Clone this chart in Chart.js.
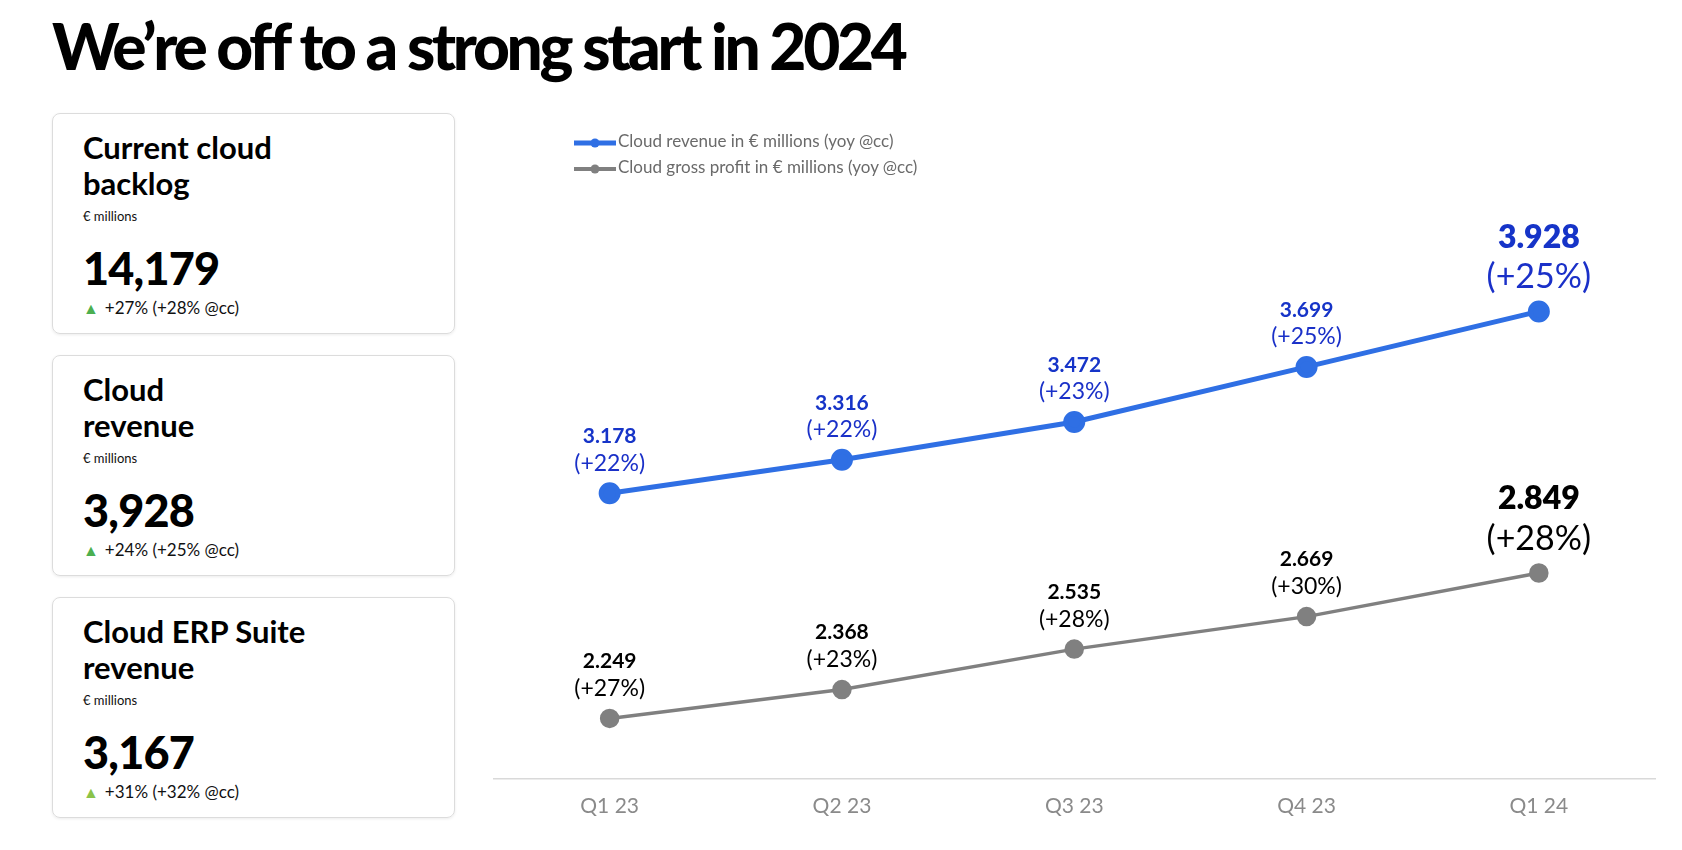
<!DOCTYPE html>
<html>
<head>
<meta charset="utf-8">
<script src="https://cdn.jsdelivr.net/npm/chart.js@4/dist/chart.umd.min.js"></script>
<style>
  body { margin: 0; width: 1682px; height: 850px; background: #fff; position: relative; overflow: hidden; font-family: Lato, sans-serif; }
  h1 { position: absolute; left: 52px; top: 6px; margin: 0; font: 900 64px/80px Lato, sans-serif; letter-spacing: -3.3px; color: #000; }
  .card { position: absolute; left: 52px; width: 403px; height: 221px; box-sizing: border-box; border: 1px solid #dcdcdc; border-radius: 8px; box-shadow: 0 1px 3px rgba(0,0,0,0.08); padding: 15px 0 0 30px; }
  .card .hd { font: 700 31px/36px Lato, sans-serif; color: #000; }
  .card .unit { font: 400 13px/20px Lato, sans-serif; color: #111; margin-top: 5px; }
  .card .num { font: 900 45px/50px Lato, sans-serif; color: #000; margin-top: 17px; letter-spacing: -0.8px; }
  .card .chg { font: 400 17px/20px Lato, sans-serif; color: #111; margin-top: 5px; }
  .card .chg span { font-size: 16px; margin-right: 6px; }
  #legend { position: absolute; left: 574px; top: 128px; font: 400 17px/26px Lato, sans-serif; color: #6a6a6a; }
  #legend canvas { vertical-align: middle; margin-right: 2px; }
  #wrap { position: absolute; left: 480px; top: 170px; width: 1190px; height: 680px; }
</style>
</head>
<body>
<h1>We’re off to a strong start in 2024</h1>

<div class="card" style="top:113px">
  <div class="hd">Current cloud<br>backlog</div>
  <div class="unit">€ millions</div>
  <div class="num">14,179</div>
  <div class="chg"><span style="color:#4caf50">▲</span>+27% (+28% @cc)</div>
</div>
<div class="card" style="top:355px">
  <div class="hd">Cloud<br>revenue</div>
  <div class="unit">€ millions</div>
  <div class="num">3,928</div>
  <div class="chg"><span style="color:#4caf50">▲</span>+24% (+25% @cc)</div>
</div>
<div class="card" style="top:597px">
  <div class="hd">Cloud ERP Suite<br>revenue</div>
  <div class="unit">€ millions</div>
  <div class="num">3,167</div>
  <div class="chg"><span style="color:#8bc34a">▲</span>+31% (+32% @cc)</div>
</div>

<div id="legend"></div>
<div id="wrap"><canvas id="myChart"></canvas></div>

<script>
var quarters = ['Q1 23', 'Q2 23', 'Q3 23', 'Q4 23', 'Q1 24'];
var cloudRevenue = [3178, 3316, 3472, 3699, 3928];
var cloudRevenueYoy = ['+22%', '+22%', '+23%', '+25%', '+25%'];
var grossProfit = [2249, 2368, 2535, 2669, 2849];
var grossProfitYoy = ['+27%', '+23%', '+28%', '+30%', '+28%'];

var blue = '#2f6fe4';
var grey = '#808080';

// legend swatch: line with a dot in the middle
function swatch(color, width) {
  var c = document.createElement('canvas');
  c.width = 42; c.height = 12;
  var g = c.getContext('2d');
  g.strokeStyle = color; g.lineWidth = width;
  g.beginPath(); g.moveTo(0, 6); g.lineTo(42, 6); g.stroke();
  g.fillStyle = color;
  g.beginPath(); g.arc(21, 6, 4.5, 0, Math.PI * 2); g.fill();
  return c;
}

// value + yoy labels above each point
var pointLabels = {
  id: 'pointLabels',
  afterDatasetsDraw: function(chart) {
    var ctx = chart.ctx;
    chart.data.datasets.forEach(function(ds, di) {
      var meta = chart.getDatasetMeta(di);
      meta.data.forEach(function(pt, i) {
        var last = i === meta.data.length - 1;
        var val = (ds.data[i] / 1000).toFixed(3);
        ctx.save();
        ctx.textAlign = 'center';
        ctx.textBaseline = 'middle';
        ctx.fillStyle = ds.valueColor;
        ctx.font = (last ? '800 32px' : '700 21px') + ' Lato, sans-serif';
        ctx.fillText(val, pt.x, pt.y - (last ? 74 : 57));
        ctx.fillStyle = ds.yoyColor;
        ctx.font = (last ? '400 34px' : '400 23px') + ' Lato, sans-serif';
        ctx.fillText('(' + ds.yoy[i] + ')', pt.x, pt.y - (last ? 34 : 30));
        ctx.restore();
      });
    });
  }
};

var myChart = document.getElementById('myChart').getContext('2d');
var CloudChart = new Chart(myChart, {
  type: 'line',
  data: {
    labels: quarters,
    datasets: [{
      label: 'Cloud revenue in € millions (yoy @cc)',
      data: cloudRevenue,
      yoy: cloudRevenueYoy,
      borderColor: blue,
      backgroundColor: blue,
      borderWidth: 5,
      pointRadius: 8.5,
      pointHoverRadius: 8.5,
      valueColor: '#1634c8',
      yoyColor: '#1a30c8'
    }, {
      label: 'Cloud gross profit in € millions (yoy @cc)',
      data: grossProfit,
      yoy: grossProfitYoy,
      borderColor: grey,
      backgroundColor: grey,
      borderWidth: 3.5,
      pointRadius: 8,
      pointHoverRadius: 8,
      valueColor: '#000',
      yoyColor: '#000'
    }]
  },
  options: {
    responsive: true,
    maintainAspectRatio: false,
    animation: false,
    clip: false,
    layout: { padding: { left: 11, right: 15, top: 27, bottom: 16 } },
    plugins: {
      legend: { display: false },
      tooltip: { enabled: false }
    },
    scales: {
      x: {
        offset: true,
        grid: { display: false, drawTicks: false },
        border: { display: true, color: '#d9d9d9', width: 1.5 },
        ticks: { color: '#8a8a8a', padding: 15, font: { family: 'Lato', size: 21 } }
      },
      y: {
        display: false,
        min: 2000,
        max: 4400
      }
    }
  },
  plugins: [pointLabels]
});

// legend built from the datasets
var legend = document.getElementById('legend');
CloudChart.data.datasets.forEach(function(ds, i) {
  var row = document.createElement('div');
  row.appendChild(swatch(ds.borderColor, i === 0 ? 5 : 4));
  row.appendChild(document.createTextNode(ds.label));
  legend.appendChild(row);
});
</script>
</body>
</html>
